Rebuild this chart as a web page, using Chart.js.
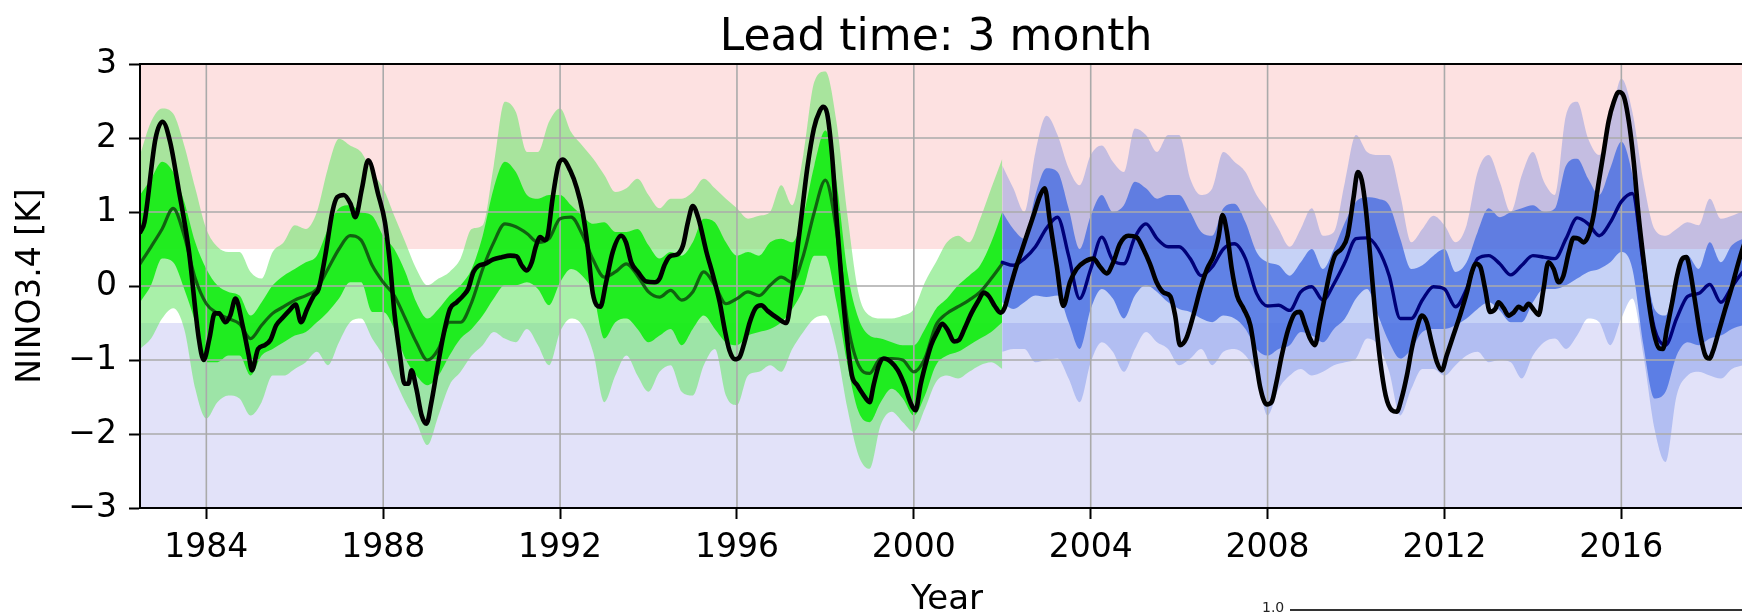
<!DOCTYPE html>
<html>
<head>
<meta charset="utf-8">
<title>Lead time: 3 month</title>
<script src="https://cdn.jsdelivr.net/npm/chart.js@4.4.1/dist/chart.umd.min.js"></script>
<style>
  html, body { margin: 0; padding: 0; background: #fff; overflow: hidden; }
  #wrap { position: relative; width: 1758px; height: 613px; }
  #next-tick { position: absolute; left: 1262px; top: 599px; font: 14px 'DejaVu Sans', sans-serif; color: #222; }
  #next-frame { position: absolute; left: 1290px; top: 609px; width: 470px; border-top: 2px solid #333; }
</style>
</head>
<body>
<div id="wrap"><canvas id="nino-chart"></canvas></div>
<div id="next-tick">1.0</div>
<div id="next-frame"></div>
<script>
'use strict';

// ── Data ─────────────────────────────────────────────────────────────────────

const xTickYears = [1984, 1988, 1992, 1996, 2000, 2004, 2008, 2012, 2016];
const yTicks = [-3, -2, -1, 0, 1, 2, 3];
const phaseLimits = [-3, -0.5, 0.5, 3];   // La Niña / neutral / El Niño

function quarters(from, to) {
  const out = [];
  for (let t = from; t <= to + 1e-9; t += 0.25) out.push(+t.toFixed(2));
  return out;
}

// hindcast period (green), quarterly 1982.5 – 2002.0
const hindYears = quarters(1982.5, 2002.0);

const hindOuterHi = [
  1.77, 2.22, 2.40, 2.33, 1.90, 1.32, 0.77, 0.53, 0.46, 0.46, 0.19, 0.10, 0.46, 0.59, 0.82, 0.77, 1.00, 1.59, 1.99, 1.90, 1.81,
  1.54, 1.32, 0.95, 0.59, 0.23, 0.01, 0.10, 0.19, 0.37, 0.77, 0.82, 1.63, 2.49, 2.35, 1.81, 1.81, 2.22, 2.40, 2.08, 1.90, 1.72,
  1.50, 1.27, 1.32, 1.45, 1.23, 1.05, 1.18, 1.18, 1.27, 1.45, 1.32, 1.18, 1.05, 0.91, 0.95, 1.00, 1.36, 1.09, 1.77, 2.76,
  2.90, 2.22, 0.95, -0.10, -0.40, -0.44, -0.44, -0.40, -0.31, 0.05, 0.32, 0.59, 0.68, 0.59, 0.91, 1.32, 1.72
];
const hindInnerHi = [
  1.23, 1.45, 1.68, 1.54, 1.14, 0.59, 0.23, 0.01, -0.08, -0.13, -0.40, -0.22, 0.01, 0.14, 0.23, 0.32, 0.41, 0.77, 1.05, 1.09, 1.00,
  0.95, 0.68, 0.50, 0.19, -0.22, -0.44, -0.31, -0.13, 0.01, 0.23, 0.68, 1.32, 1.68, 1.54, 1.23, 1.18, 1.23, 1.23, 1.09, 0.95, 0.84,
  0.86, 0.73, 0.73, 0.77, 0.55, 0.37, 0.46, 0.41, 0.59, 0.91, 0.86, 0.59, 0.41, 0.46, 0.41, 0.59, 0.64, 0.59, 0.95, 1.63,
  2.10, 1.41, 0.19, -0.44, -0.67, -0.71, -0.76, -0.80, -0.80, -0.58, -0.31, -0.17, 0.01, 0.14, 0.28, 0.59, 1.00
];
const hindMean = [
  0.30, 0.53, 0.77, 1.05, 0.68, 0.10, -0.24, -0.37, -0.44, -0.51, -0.71, -0.53, -0.37, -0.28, -0.19, -0.13, -0.04, 0.23, 0.50, 0.68, 0.62,
  0.28, 0.05, -0.13, -0.44, -0.76, -1.00, -0.85, -0.49, -0.49, -0.22, 0.23, 0.59, 0.84, 0.80, 0.71, 0.59, 0.64, 0.91, 0.93, 0.70, 0.35,
  0.12, 0.19, 0.30, 0.14, -0.08, -0.15, -0.06, -0.19, -0.08, 0.19, 0.01, -0.24, -0.17, -0.08, -0.13, 0.01, 0.12, 0.05, 0.41, 1.00,
  1.43, 0.75, -0.49, -1.07, -1.18, -0.98, -0.98, -1.00, -1.16, -0.98, -0.53, -0.37, -0.28, -0.19, -0.08, 0.10, 0.30
];
const hindInnerLo = [
  -0.22, 0.01, 0.37, 0.32, -0.04, -0.49, -1.03, -1.03, -0.94, -0.94, -1.21, -0.94, -0.85, -0.76, -0.67, -0.62, -0.49, -0.35, -0.17, 0.05, 0.05,
  -0.35, -0.35, -0.58, -0.98, -1.21, -1.34, -1.21, -0.94, -0.71, -0.58, -0.40, -0.17, 0.01, 0.01, 0.05, -0.04, -0.26, 0.05, 0.23, 0.14, -0.10,
  -0.71, -0.49, -0.44, -0.58, -0.76, -0.67, -0.58, -0.80, -0.58, -0.40, -0.58, -0.76, -0.80, -0.67, -0.62, -0.58, -0.49, -0.31, -0.04, 0.41,
  0.41, -0.22, -1.07, -1.70, -1.84, -1.57, -1.39, -1.52, -1.75, -1.48, -1.07, -0.94, -0.89, -0.80, -0.71, -0.62, -0.49
];
const hindOuterLo = [
  -0.85, -0.71, -0.44, -0.30, -0.58, -1.39, -1.79, -1.57, -1.48, -1.52, -1.75, -1.57, -1.21, -1.21, -1.12, -1.03, -0.89, -1.07, -0.76, -0.49, -0.44,
  -0.71, -0.94, -1.25, -1.57, -1.84, -2.15, -1.75, -1.34, -1.16, -0.94, -0.80, -0.62, -0.71, -0.76, -0.58, -0.80, -1.07, -0.62, -0.44, -0.53, -0.90,
  -1.57, -1.21, -0.94, -1.21, -1.43, -1.16, -1.07, -1.43, -1.48, -1.07, -0.85, -1.48, -1.61, -1.21, -1.16, -1.07, -1.16, -0.85, -0.62, -0.44,
  -0.40, -0.85, -1.66, -2.29, -2.47, -1.88, -1.70, -1.84, -1.97, -1.66, -1.30, -1.21, -1.25, -1.16, -1.07, -1.03, -1.12
];

// forecast period (blue), quarterly 2002.0 – 2019.0
const foreYears = quarters(2002.0, 2019.0);

const foreOuterHi = [
  1.63, 1.32, 1.00, 1.81, 2.30, 2.04, 1.59, 1.36, 1.77, 1.90, 1.68, 1.54, 2.13, 2.04, 1.81, 2.04, 2.04, 1.45, 1.23, 1.32, 1.81, 1.68, 1.54, 1.23,
  1.03, 0.77, 0.53, 0.77, 1.05, 0.68, 0.73, 1.41, 2.04, 1.81, 1.77, 1.77, 1.23, 0.59, 0.77, 0.95, 0.82, 0.59, 0.82, 1.54,
  1.77, 1.41, 1.00, 1.50, 1.81, 1.41, 1.23, 2.31, 2.49, 1.99, 1.77, 2.22, 2.80, 2.35, 1.41, 0.77, 0.68, 0.77, 0.86, 0.82, 1.18, 0.91, 0.95, 1.00, 1.00
];
const foreInnerHi = [
  1.00, 0.77, 0.64, 1.23, 1.59, 1.54, 1.05, 0.50, 0.95, 1.23, 1.00, 1.09, 1.41, 1.32, 1.18, 1.23, 1.23, 1.00, 0.73, 0.68, 1.05, 1.11, 0.86, 0.46,
  0.32, 0.28, 0.14, 0.32, 0.50, 0.23, 0.50, 0.86, 1.14, 1.20, 1.18, 1.09, 0.64, 0.23, 0.28, 0.41, 0.50, 0.19, 0.32, 0.73,
  1.05, 0.93, 1.00, 1.05, 1.09, 1.00, 1.05, 1.63, 1.72, 1.45, 1.23, 1.59, 1.95, 1.50, 0.50, -0.31, -0.40, 0.14, 0.41, 0.23, 0.59, 0.32, 0.55, 0.64, 0.68
];
const foreMean = [
  0.32, 0.28, 0.37, 0.53, 0.78, 0.93, 0.41, -0.17, 0.23, 0.66, 0.35, 0.30, 0.66, 0.84, 0.64, 0.53, 0.53, 0.37, 0.14, 0.26, 0.50, 0.57, 0.37, -0.10,
  -0.27, -0.26, -0.33, -0.08, -0.01, -0.19, 0.03, 0.32, 0.64, 0.65, 0.50, 0.14, -0.44, -0.44, -0.19, -0.01, -0.04, -0.28, -0.04, 0.37,
  0.41, 0.30, 0.15, 0.28, 0.41, 0.39, 0.37, 0.64, 0.92, 0.84, 0.68, 0.86, 1.14, 1.25, 0.28, -0.58, -0.80, -0.44, -0.14, -0.10, 0.02, -0.22, -0.01, 0.19, 0.32
];
const foreInnerLo = [
  -0.22, -0.31, -0.22, -0.13, -0.15, -0.13, -0.49, -0.85, -0.31, -0.04, -0.17, -0.44, -0.13, 0.01, -0.08, -0.22, -0.31, -0.35, -0.44, -0.49, -0.40, -0.44, -0.58, -0.85,
  -0.94, -0.85, -0.80, -0.62, -0.67, -0.76, -0.58, -0.44, -0.17, -0.04, -0.40, -0.76, -0.98, -0.85, -0.62, -0.58, -0.58, -0.53, -0.44, -0.31,
  -0.22, -0.33, -0.49, -0.49, -0.22, -0.04, -0.04, 0.01, 0.10, 0.19, 0.23, 0.32, 0.46, 0.23, -0.80, -1.52, -1.43, -0.94, -0.76, -0.80, -0.71, -0.67, -0.58, -0.53, -0.49
];
const foreOuterLo = [
  -0.89, -0.85, -0.85, -1.03, -1.00, -0.98, -1.25, -1.57, -1.03, -0.76, -0.89, -1.16, -0.85, -0.62, -0.76, -0.85, -1.07, -0.98, -0.85, -1.07, -0.89, -0.85, -0.94, -1.21,
  -1.75, -1.39, -1.21, -1.12, -1.21, -1.16, -1.07, -1.03, -0.98, -0.71, -0.80, -1.16, -1.75, -1.39, -1.12, -1.12, -1.21, -1.07, -0.94, -0.89,
  -1.03, -1.00, -1.03, -1.25, -0.94, -0.76, -0.71, -0.85, -0.67, -0.44, -0.49, -0.80, -0.44, -0.17, -0.94, -1.93, -2.38, -1.48, -1.21, -1.16, -1.21, -1.25, -1.12, -1.07, -1.03
];

// observed NINO3.4 index
const obsYears = [
  1982.51, 1982.60, 1982.85, 1983.01, 1983.18, 1983.37, 1983.60, 1983.83, 1983.94, 1984.07,
  1984.19, 1984.29, 1984.43, 1984.54, 1984.66, 1984.82, 1984.96, 1985.03, 1985.17, 1985.32,
  1985.45, 1985.58, 1985.71, 1985.88, 1986.02, 1986.14, 1986.28, 1986.43, 1986.54, 1986.69,
  1986.85, 1986.96, 1987.11, 1987.26, 1987.37, 1987.52, 1987.66, 1987.89, 1988.04, 1988.15,
  1988.26, 1988.38, 1988.48, 1988.57, 1988.64, 1988.75, 1988.87, 1988.98, 1989.09, 1989.21,
  1989.36, 1989.51, 1989.66, 1989.81, 1989.92, 1990.04, 1990.15, 1990.30, 1990.49, 1990.68,
  1990.87, 1991.02, 1991.13, 1991.25, 1991.36, 1991.45, 1991.55, 1991.65, 1991.72, 1991.83,
  1991.96, 1992.06, 1992.23, 1992.38, 1992.51, 1992.63, 1992.74, 1992.91, 1993.04, 1993.19,
  1993.38, 1993.49, 1993.61, 1993.76, 1993.95, 1994.14, 1994.25, 1994.36, 1994.48, 1994.66,
  1994.78, 1994.89, 1995.00, 1995.13, 1995.31, 1995.46, 1995.61, 1995.72, 1995.83, 1995.95,
  1996.06, 1996.17, 1996.29, 1996.42, 1996.55, 1996.70, 1996.93, 1997.12, 1997.23, 1997.34,
  1997.46, 1997.59, 1997.74, 1997.87, 1997.95, 1998.04, 1998.15, 1998.26, 1998.38, 1998.49,
  1998.60, 1998.72, 1998.87, 1999.00, 1999.09, 1999.21, 1999.32, 1999.49, 1999.64, 1999.79,
  1999.92, 2000.04, 2000.15, 2000.26, 2000.39, 2000.53, 2000.64, 2000.77, 2000.91, 2001.02,
  2001.15, 2001.30, 2001.45, 2001.58, 2001.70, 2001.83, 2001.96, 2002.05, 2002.17, 2002.30,
  2002.43, 2002.58, 2002.72, 2002.86, 2002.96, 2003.08, 2003.23, 2003.38, 2003.53, 2003.68,
  2003.87, 2004.06, 2004.21, 2004.36, 2004.51, 2004.66, 2004.85, 2005.04, 2005.19, 2005.34,
  2005.49, 2005.65, 2005.80, 2005.91, 2006.02, 2006.16, 2006.32, 2006.48, 2006.63, 2006.78,
  2006.89, 2006.98, 2007.08, 2007.19, 2007.31, 2007.46, 2007.61, 2007.72, 2007.83, 2007.98,
  2008.09, 2008.20, 2008.32, 2008.47, 2008.62, 2008.73, 2008.85, 2008.96, 2009.07, 2009.18,
  2009.30, 2009.41, 2009.52, 2009.68, 2009.81, 2009.94, 2010.04, 2010.13, 2010.22, 2010.32,
  2010.43, 2010.54, 2010.67, 2010.81, 2010.92, 2011.03, 2011.15, 2011.26, 2011.37, 2011.49,
  2011.60, 2011.71, 2011.83, 2011.94, 2012.05, 2012.20, 2012.35, 2012.51, 2012.62, 2012.71,
  2012.81, 2012.92, 2013.03, 2013.15, 2013.22, 2013.34, 2013.45, 2013.56, 2013.68, 2013.79,
  2013.90, 2014.02, 2014.13, 2014.24, 2014.35, 2014.47, 2014.58, 2014.69, 2014.81, 2014.92,
  2015.03, 2015.15, 2015.26, 2015.37, 2015.49, 2015.60, 2015.71, 2015.83, 2015.94, 2016.05,
  2016.17, 2016.28, 2016.39, 2016.51, 2016.62, 2016.73, 2016.85, 2016.94, 2017.03, 2017.15,
  2017.26, 2017.37, 2017.47, 2017.56, 2017.68, 2017.79, 2017.90, 2017.99, 2018.09, 2018.20,
  2018.35, 2018.51, 2018.63, 2018.80, 2019.00
];
const obsValues = [
  0.73, 0.86, 1.99, 2.22, 1.95, 1.32, 0.50, -0.71, -1.00, -0.71,
  -0.37, -0.37, -0.49, -0.40, -0.17, -0.53, -0.94, -1.14, -0.85, -0.80,
  -0.73, -0.53, -0.44, -0.33, -0.25, -0.49, -0.31, -0.13, -0.04, 0.41,
  1.00, 1.20, 1.23, 1.11, 0.93, 1.32, 1.70, 1.23, 0.86, 0.32,
  -0.40, -0.94, -1.32, -1.32, -1.14, -1.39, -1.75, -1.86, -1.57, -1.16,
  -0.67, -0.31, -0.22, -0.13, -0.04, 0.19, 0.27, 0.30, 0.36, 0.39,
  0.41, 0.40, 0.28, 0.21, 0.32, 0.53, 0.66, 0.62, 0.68, 1.18,
  1.63, 1.71, 1.56, 1.32, 1.00, 0.50, -0.10, -0.28, 0.05, 0.46,
  0.68, 0.59, 0.32, 0.19, 0.06, 0.05, 0.10, 0.28, 0.40, 0.43,
  0.55, 0.86, 1.08, 0.91, 0.46, 0.14, -0.22, -0.58, -0.87, -0.99,
  -0.96, -0.76, -0.49, -0.30, -0.26, -0.34, -0.44, -0.50, -0.13, 0.37,
  0.95, 1.59, 2.13, 2.36, 2.42, 2.33, 1.77, 0.86, -0.04, -0.71,
  -1.21, -1.34, -1.48, -1.57, -1.34, -1.07, -0.98, -1.03, -1.14, -1.34,
  -1.57, -1.68, -1.34, -1.07, -0.80, -0.62, -0.51, -0.60, -0.75, -0.73,
  -0.57, -0.37, -0.21, -0.09, -0.14, -0.27, -0.36, -0.30, -0.04, 0.23,
  0.46, 0.73, 0.98, 1.23, 1.32, 0.86, 0.28, -0.27, 0.05, 0.23,
  0.33, 0.37, 0.26, 0.17, 0.32, 0.57, 0.68, 0.66, 0.50, 0.30,
  0.05, -0.09, -0.14, -0.40, -0.80, -0.71, -0.40, -0.04, 0.23, 0.41,
  0.66, 0.96, 0.73, 0.23, -0.13, -0.31, -0.53, -0.94, -1.36, -1.60,
  -1.57, -1.30, -0.94, -0.58, -0.37, -0.35, -0.53, -0.71, -0.80, -0.49,
  -0.13, 0.19, 0.41, 0.51, 0.68, 1.18, 1.54, 1.43, 1.05, 0.41,
  -0.35, -0.98, -1.48, -1.68, -1.70, -1.52, -1.21, -0.85, -0.58, -0.40,
  -0.49, -0.76, -1.03, -1.14, -0.94, -0.67, -0.40, -0.08, 0.19, 0.30,
  0.26, -0.04, -0.35, -0.31, -0.22, -0.30, -0.40, -0.36, -0.28, -0.32,
  -0.24, -0.32, -0.39, -0.04, 0.32, 0.23, 0.05, 0.14, 0.45, 0.65,
  0.64, 0.59, 0.69, 0.95, 1.41, 1.81, 2.22, 2.49, 2.62, 2.57,
  2.22, 1.68, 0.95, 0.32, -0.22, -0.62, -0.84, -0.85, -0.58, -0.22,
  0.14, 0.36, 0.39, 0.19, -0.26, -0.67, -0.94, -0.98, -0.85, -0.62,
  -0.31, 0.01, 0.28, 0.60, 0.80
];

// ── Style ────────────────────────────────────────────────────────────────────

const FONT = "'DejaVu Sans', 'Liberation Sans', sans-serif";
const phaseColors = ['#e2e2f9', '#ffffff', '#fde1e1'];
const GRID_COLOR = '#aaaaaa';

const C = {
  hindOuter: 'rgba(112, 230, 112, 0.6)',
  hindInner: 'rgba(18, 236, 18, 0.9)',
  hindMean:  'rgba(14, 82, 14, 0.9)',
  foreOuter: 'rgba(65, 105, 225, 0.30)',
  foreInner: 'rgba(65, 105, 225, 0.76)',
  foreMean:  '#000078',
  obs:       '#000000'
};

// ── Helpers ──────────────────────────────────────────────────────────────────

function pts(xs, ys) {
  return xs.map((x, i) => ({ x, y: ys[i] }));
}

function minusSign(v) {
  return v < 0 ? '\u2212' + Math.abs(v) : String(v);
}

function edge(label, xs, ys, order, fillColor) {
  return {
    label,
    data: pts(xs, ys),
    order,
    borderWidth: 0,
    borderColor: 'transparent',
    backgroundColor: fillColor || 'transparent',
    fill: fillColor ? '-1' : false,
    pointRadius: 0,
    cubicInterpolationMode: 'monotone'
  };
}

function line(label, xs, ys, order, color, width) {
  return {
    label,
    data: pts(xs, ys),
    order,
    borderColor: color,
    borderWidth: width,
    fill: false,
    pointRadius: 0,
    cubicInterpolationMode: 'monotone',
    borderJoinStyle: 'round',
    borderCapStyle: 'round'
  };
}

// ── Plugins ──────────────────────────────────────────────────────────────────

const MEAN_HIND_INDEX = 8;

// pink / white / lavender ENSO phase background
const phaseBackground = {
  id: 'phaseBackground',
  beforeDatasetsDraw(chart) {
    const { ctx, chartArea: a, scales: { y } } = chart;
    ctx.save();
    for (let i = 0; i < phaseLimits.length - 1; i++) {
      const top = y.getPixelForValue(phaseLimits[i + 1]);
      const bottom = y.getPixelForValue(phaseLimits[i]);
      ctx.fillStyle = phaseColors[i];
      ctx.fillRect(a.left, top, a.right - a.left, bottom - top);
    }
    ctx.restore();
  }
};

// grid sits above the spread bands but under the lines (matplotlib order)
const gridOverBands = {
  id: 'gridOverBands',
  beforeDatasetDraw(chart, args) {
    if (args.index !== MEAN_HIND_INDEX) return;
    const { ctx, chartArea: a, scales: { x, y } } = chart;
    ctx.save();
    ctx.strokeStyle = GRID_COLOR;
    ctx.lineWidth = 1.6;
    ctx.beginPath();
    for (const t of xTickYears) {
      const px = x.getPixelForValue(t);
      ctx.moveTo(px, a.top);
      ctx.lineTo(px, a.bottom);
    }
    for (const v of yTicks) {
      const py = y.getPixelForValue(v);
      ctx.moveTo(a.left, py);
      ctx.lineTo(a.right, py);
    }
    ctx.stroke();
    ctx.restore();
  },
  afterDatasetsDraw(chart) {
    const { ctx, chartArea: a } = chart;
    ctx.save();
    ctx.strokeStyle = '#000';
    ctx.lineWidth = 2;
    ctx.strokeRect(a.left, a.top, a.right - a.left, a.bottom - a.top);
    ctx.restore();
  }
};

// ── Chart ────────────────────────────────────────────────────────────────────

const datasets = [
  edge('hindcast 90% hi', hindYears, hindOuterHi, 6),
  edge('hindcast 90% lo', hindYears, hindOuterLo, 6, C.hindOuter),
  edge('hindcast 50% hi', hindYears, hindInnerHi, 5),
  edge('hindcast 50% lo', hindYears, hindInnerLo, 5, C.hindInner),
  edge('forecast 90% hi', foreYears, foreOuterHi, 6),
  edge('forecast 90% lo', foreYears, foreOuterLo, 6, C.foreOuter),
  edge('forecast 50% hi', foreYears, foreInnerHi, 5),
  edge('forecast 50% lo', foreYears, foreInnerLo, 5, C.foreInner),
  line('hindcast mean', hindYears, hindMean, 3, C.hindMean, 3.2),
  line('forecast mean', foreYears, foreMean, 2, C.foreMean, 3.4),
  line('observed', obsYears, obsValues, 1, C.obs, 4.6)
];

new Chart(document.getElementById('nino-chart'), {
  type: 'line',
  data: { datasets },
  options: {
    responsive: true,
    maintainAspectRatio: false,
    animation: false,
    events: [],
    layout: { padding: { left: 0, right: 4, top: 0, bottom: 0 } },
    plugins: {
      legend: { display: false },
      tooltip: { enabled: false },
      title: {
        display: true,
        // trailing en space nudges the centred title slightly left, as in the figure
        text: 'Lead time: 3 month\u2002',
        color: '#000',
        fullSize: false,
        font: { family: FONT, size: 44, weight: 'normal', lineHeight: 1 },
        padding: { top: 17, bottom: 3 }
      }
    },
    scales: {
      x: {
        type: 'linear',
        min: 1982.5,
        max: 2019.0,
        afterBuildTicks: axis => { axis.ticks = xTickYears.map(v => ({ value: v })); },
        afterFit: scale => { scale.height = 105; },
        grid: { drawOnChartArea: false, drawTicks: true, tickLength: 11, tickColor: '#000', tickWidth: 2 },
        border: { display: true, color: '#000', width: 2 },
        ticks: {
          color: '#000',
          padding: 10,
          maxRotation: 0,
          autoSkip: false,
          font: { family: FONT, size: 33 },
          callback: v => String(v)
        },
        title: {
          display: true,
          text: 'Year',
          color: '#000',
          font: { family: FONT, size: 34, lineHeight: 1 },
          padding: { top: 0, bottom: -4.5 }
        }
      },
      y: {
        min: -3,
        max: 3,
        afterBuildTicks: axis => { axis.ticks = yTicks.map(v => ({ value: v })); },
        afterFit: scale => { scale.width = 140; },
        grid: { drawOnChartArea: false, drawTicks: true, tickLength: 11, tickColor: '#000', tickWidth: 2 },
        border: { display: true, color: '#000', width: 2 },
        ticks: {
          color: '#000',
          padding: 12,
          font: { family: FONT, size: 33 },
          callback: v => minusSign(v)
        },
        title: {
          display: true,
          text: 'NINO3.4 [K]',
          color: '#000',
          font: { family: FONT, size: 33, lineHeight: 1 },
          padding: { top: 15, bottom: 0 }
        }
      }
    }
  },
  plugins: [phaseBackground, gridOverBands]
});
</script>
</body>
</html>
